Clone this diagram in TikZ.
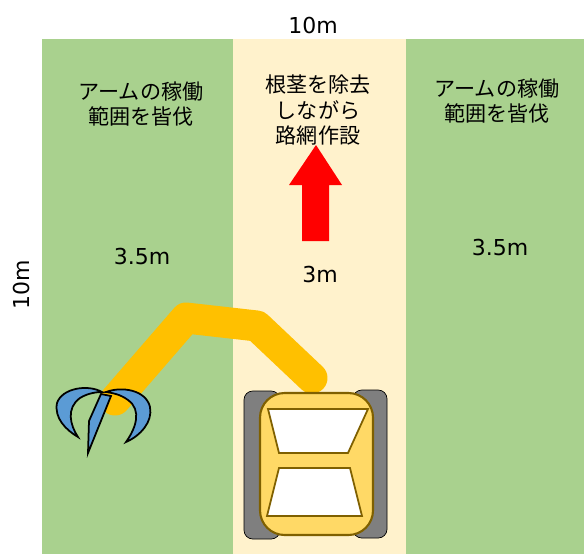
\documentclass[tikz,border=0pt]{standalone}
\usepackage{fontspec}
\setmainfont{DejaVu Sans}
\newfontfamily\jp{Noto Sans CJK JP}
\usepackage{xcolor}
\usetikzlibrary{positioning}

\definecolor{field}{HTML}{A9D18E}
\definecolor{road}{HTML}{FFF2CC}
\definecolor{boom}{HTML}{FFC000}
\definecolor{cab}{HTML}{FFD966}
\definecolor{cabline}{HTML}{7F6000}
\definecolor{track}{HTML}{7F7F7F}
\definecolor{claw}{HTML}{5B9BD5}

\begin{document}
\begin{tikzpicture}[x=0.02cm, y=-0.02cm]
        \tikzset{dim/.style={font=\fontsize{12.5}{14}\selectfont},
                 note/.style={font=\jp\fontsize{12}{14.5}\selectfont, align=center},
                 window/.style={fill=white, draw=cabline, line width=1pt}}
        \useasboundingbox (0,0) rectangle (584,554);

        % strips
        \fill[field] (42,39) rectangle (233,554);
        \fill[road] (233,39) rectangle (406,554);
        \fill[field] (406,39) rectangle (584,554);

        \node[dim] (w) at (313,26) {10m};
        \node[dim, rotate=90] (h) at (22,285) {10m};

        \node[note] (l) at (141,104) {アームの稼働\\範囲を皆伐};
        \node[note] (c) at (318,110) {根茎を除去\\しながら\\路網作設};
        \node[note] (r) at (497,101) {アームの稼働\\範囲を皆伐};

        \node[dim] (l1) at (142,257) {3.5m};
        \node[dim] (c1) at (320,275) {3m};
        \node[dim] (r1) at (500,248) {3.5m};

        % direction of travel
        \fill[red] (316,145) -- (342,185) -- (329,185) -- (329,241)
                -- (302,241) -- (302,185) -- (289,185) -- cycle;

        % arm
        \draw[boom, line width=0.62cm, line join=round, line cap=round]
                (312,378) -- (257,326) -- (186,318) -- (115,400);

        % grapple
        \draw[fill=claw, line width=1pt]
                (102,392) .. controls (88,384) and (62,388) .. (57,403)
                .. controls (54,418) and (66,430) .. (78,437)
                .. controls (70,425) and (66,408) .. (80,398)
                .. controls (88,393) and (97,392) .. cycle;
        \draw[fill=claw, line width=1pt]
                (106,392) .. controls (122,386) and (146,390) .. (150,407)
                .. controls (153,422) and (140,436) .. (126,442)
                .. controls (136,428) and (142,410) .. (128,400)
                .. controls (120,394) and (112,393) .. cycle;
        \draw[fill=claw, line width=1pt]
                (101,394) -- (111,396) -- (88,453) -- (89,421) -- cycle;

        % machine
        \draw[fill=track, rounded corners=5] (244,391) rectangle (280,539);
        \draw[fill=track, rounded corners=5] (353,390) rectangle (387,538);
        \draw[fill=cab, draw=cabline, line width=1.2pt, rounded corners=14]
                (260,393) rectangle (373,535);
        \draw[window] (268,409) -- (368,409) -- (348,453) -- (279,453) -- cycle;
        \draw[window] (279,468) -- (350,468) -- (362,516) -- (267,516) -- cycle;
\end{tikzpicture}
\end{document}
